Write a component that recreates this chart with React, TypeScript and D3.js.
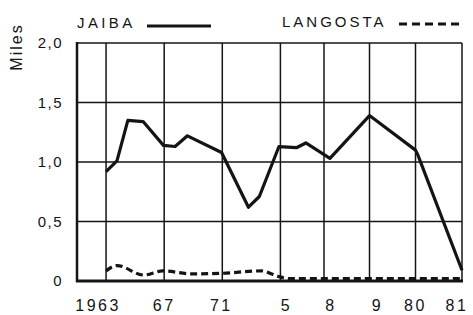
import React from "react";
import * as d3 from "d3";

const jaibaYears = [1963, 1963.75, 1964.5, 1965.55, 1966.95, 1967.75, 1968.6, 1970.95, 1972.8, 1973.55, 1974.9, 1976.1, 1976.75, 1978.13, 1979, 1980, 1980.05, 1981];
const jaibaValues = [0.92, 1.01, 1.35, 1.34, 1.14, 1.13, 1.22, 1.08, 0.62, 0.71, 1.13, 1.12, 1.16, 1.03, 1.39, 1.1, 1.06, 0.09];

const langostaYears = [1963, 1963.75, 1965.6, 1966.9, 1968.9, 1971, 1973.7, 1974.8, 1975.6, 1981];
const langostaValues = [0.085, 0.13, 0.05, 0.085, 0.06, 0.065, 0.085, 0.04, 0.02, 0.02];

const gridYears = [1963, 1967, 1971, 1975, 1978, 1979, 1980, 1981];
const xTickYears = [1963, 1967, 1971, 1975, 1978, 1979, 1980, 1981];
const xTickLabels = ["1963", "67", "71", "5", "8", "9", "80", "81"];
const yTicks = [0, 0.5, 1.0, 1.5, 2.0];
const yTickLabels = ["0", "0,5", "1,0", "1,5", "2,0"];
const seriesNames = ["JAIBA", "LANGOSTA"];
const yTitle = "Miles";

const W = 473;
const H = 315;
const left = 77;
const right = 462;
const top = 43;
const bottom = 281;

export default function App() {
  const x = d3.scaleLinear().domain([1961, 1978, 1979, 1980, 1981]).range([left, 324, 369.5, 415.5, right]);
  const y = d3.scaleLinear().domain([0, 2]).range([bottom, top]);

  const jaiba = jaibaYears.map((yr, i) => [yr, jaibaValues[i]] as [number, number]);
  const lang = langostaYears.map((yr, i) => [yr, langostaValues[i]] as [number, number]);

  const line = d3
    .line<[number, number]>()
    .x((d) => x(d[0]))
    .y((d) => y(d[1]));
  const curve = d3
    .line<[number, number]>()
    .x((d) => x(d[0]))
    .y((d) => y(d[1]))
    .curve(d3.curveMonotoneX);

  const labelDx = [-8, 0, -1, 6, 7, 8, 0, -5];
  const ink = "#141414";
  const font = "Arial, 'Liberation Sans', Helvetica, sans-serif";

  return (
    <svg
      width={W}
      height={H}
      style={{ position: "absolute", left: 0, top: 0, background: "#fff" }}
      fontFamily={font}
    >
      <rect x={0} y={0} width={W} height={H} fill="#fff" />
      {/* horizontal grid */}
      {yTicks.slice(1).map((t) => (
        <line key={"h" + t} x1={left} x2={right} y1={y(t)} y2={y(t)} stroke={ink} strokeWidth={1.5} />
      ))}
      {/* vertical grid */}
      {gridYears.map((g) => (
        <line key={"v" + g} x1={x(g)} x2={x(g)} y1={top} y2={bottom} stroke={ink} strokeWidth={1.5} />
      ))}
      {/* axes */}
      <line x1={left} x2={left} y1={top - 1} y2={bottom + 1} stroke={ink} strokeWidth={2.5} />
      <line x1={left - 1} x2={right + 1} y1={bottom} y2={bottom} stroke={ink} strokeWidth={3} />

      {/* series */}
      <path d={line(jaiba) || ""} fill="none" stroke={ink} strokeWidth={3.2} strokeLinejoin="round" />
      <path
        d={curve(lang) || ""}
        fill="none"
        stroke={ink}
        strokeWidth={3.2}
        strokeDasharray="7 4"
      />

      {/* y tick labels */}
      {yTicks.map((t, i) => (
        <text
          key={"yl" + t}
          x={63}
          y={y(t)}
          dy="0.36em"
          textAnchor="end"
          fontSize={15}
          letterSpacing={1.5}
          fill={ink}
        >
          {yTickLabels[i]}
        </text>
      ))}

      {/* x tick labels */}
      {xTickYears.map((t, i) => (
        <text
          key={"xl" + t}
          x={x(t) + labelDx[i]}
          y={311}
          textAnchor="middle"
          fontSize={16}
          letterSpacing={2.5}
          fill={ink}
        >
          {xTickLabels[i]}
        </text>
      ))}

      {/* y title */}
      <text
        transform="translate(22,47) rotate(-90)"
        textAnchor="middle"
        fontSize={16}
        letterSpacing={2}
        fill={ink}
      >
        {yTitle}
      </text>

      {/* legend */}
      <text x={77} y={28} fontSize={15} letterSpacing={3.4} fill={ink}>
        {seriesNames[0]}
      </text>
      <line x1={147} x2={211} y1={26} y2={26} stroke={ink} strokeWidth={3} />
      <text x={282} y={27} fontSize={15} letterSpacing={3} fill={ink}>
        {seriesNames[1]}
      </text>
      <line x1={399} x2={464} y1={24} y2={24} stroke={ink} strokeWidth={3.2} strokeDasharray="8 5" />
    </svg>
  );
}
